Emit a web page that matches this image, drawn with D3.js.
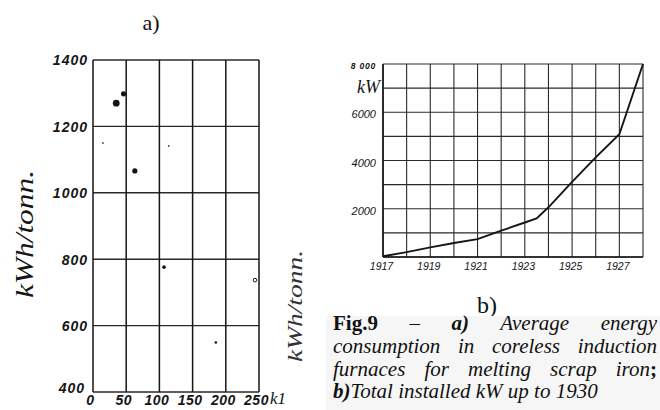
<!DOCTYPE html>
<html><head><meta charset="utf-8">
<script src="https://cdn.jsdelivr.net/npm/d3@7/dist/d3.min.js"></script>
<style>
html,body{margin:0;padding:0;background:#fff;}
svg{display:block;}
</style></head>
<body>
<svg id="c" width="660" height="410"></svg>
<script>
// ---- Data: chart a) energy consumption vs furnace capacity ----
const leftXTicks = [0, 50, 100, 150, 200, 250];
const leftYTicks = [400, 600, 800, 1000, 1200, 1400];
const bigDotsX = [35, 46, 63];
const bigDotsY = [1270, 1298, 1066];
const smallDotsX = [107, 185];
const smallDotsY = [776, 549];
const openDotX = [247];
const openDotY = [737];
const specksX = [15, 114];
const specksY = [1150, 1141];

// ---- Data: chart b) total installed kW ----
const years = [1917, 1918, 1919, 1920, 1921, 1922, 1923, 1923.5, 1924, 1925, 1926, 1927, 1928];
const kW    = [30, 200, 400, 580, 740, 1090, 1430, 1600, 2060, 3110, 4130, 5090, 8000];
const rightXTicks = [1917, 1919, 1921, 1923, 1925, 1927];
const rightYTicks = [2000, 4000, 6000, 8000];
const rightYTickLabels = ["2000", "4000", "6000", "8 000"];

const svg = d3.select("#c");
const ink = "#151515";

// ================= Chart a) =================
const xa = d3.scaleLinear().domain([0, 250]).range([93, 259]);
const ya = d3.scaleLinear().domain([400, 1400]).range([392, 60]);
const ga = svg.append("g");

ga.selectAll("line.h").data(leftYTicks).join("line")
  .attr("x1", xa(0)).attr("x2", xa(250))
  .attr("y1", d => ya(d)).attr("y2", d => ya(d))
  .attr("stroke", "#2a2a2a").attr("stroke-width", 1.4);
ga.selectAll("line.v").data(leftXTicks).join("line")
  .attr("y1", ya(400)).attr("y2", ya(1400))
  .attr("x1", d => xa(d)).attr("x2", d => xa(d))
  .attr("stroke", ink).attr("stroke-width", 1.5);

const tickFontA = "italic bold 14px 'Liberation Sans', Arial, sans-serif";
const yAxisA = d3.axisLeft(ya).tickValues(leftYTicks).tickSize(0).tickPadding(4).tickFormat(d3.format("d"));
const gya = ga.append("g").attr("transform", `translate(${xa(0) - 1},0)`).call(yAxisA);
gya.select(".domain").remove();
gya.selectAll("text").style("font", tickFontA).attr("fill", ink).attr("letter-spacing", "1px")
  .attr("dy", d => d === 400 ? "0.05em" : "0.35em")
  .attr("x", d => d === 400 ? -7 : -4);

const xAxisA = d3.axisBottom(xa).tickValues(leftXTicks).tickSize(0).tickPadding(3).tickFormat(d3.format("d"));
const gxa = ga.append("g").attr("transform", `translate(-3,${ya(400)})`).call(xAxisA);
gxa.select(".domain").remove();
gxa.selectAll("text").style("font", tickFontA).attr("fill", ink).attr("letter-spacing", "0.5px").attr("dy", "0.72em");

ga.append("text").attr("x", 270).attr("y", 404)
  .style("font", "italic 17px 'Liberation Serif', serif").attr("fill", ink).text("k1");

ga.append("text")
  .attr("transform", `translate(33,234) rotate(-90)`)
  .attr("text-anchor", "middle")
  .attr("textLength", 128).attr("lengthAdjust", "spacingAndGlyphs")
  .style("font", "italic 25px 'Liberation Serif', serif").attr("fill", ink)
  .text("kWh/tonn.");
ga.append("text")
  .attr("transform", `translate(302,306) rotate(-90)`)
  .attr("text-anchor", "middle")
  .attr("textLength", 112).attr("lengthAdjust", "spacingAndGlyphs")
  .style("font", "italic 20px 'Liberation Serif', serif").attr("fill", "#333")
  .text("kWh/tonn.");

ga.selectAll("circle.big").data(bigDotsX).join("circle")
  .attr("cx", (d, i) => xa(d)).attr("cy", (d, i) => ya(bigDotsY[i]))
  .attr("r", (d, i) => i === 0 ? 3.4 : 2.6).attr("fill", ink);
ga.selectAll("circle.small").data(smallDotsX).join("circle")
  .attr("cx", d => xa(d)).attr("cy", (d, i) => ya(smallDotsY[i]))
  .attr("r", (d, i) => i === 0 ? 1.8 : 1.3).attr("fill", ink);
ga.selectAll("circle.open").data(openDotX).join("circle")
  .attr("cx", d => xa(d) - 2).attr("cy", (d, i) => ya(openDotY[i]))
  .attr("r", 1.8).attr("fill", "#fff").attr("stroke", ink).attr("stroke-width", 1);
ga.selectAll("circle.speck").data(specksX).join("circle")
  .attr("cx", d => xa(d)).attr("cy", (d, i) => ya(specksY[i]))
  .attr("r", 0.9).attr("fill", "#444");

svg.append("text").attr("x", 151).attr("y", 30).attr("text-anchor", "middle")
  .style("font", "22px 'Liberation Serif', serif").attr("fill", "#111").text("a)");

// ================= Chart b) =================
const xb = d3.scaleLinear().domain([1917, 1928]).range([383, 643]);
const yb = d3.scaleLinear().domain([0, 8000]).range([257, 64]);
const gb = svg.append("g");

gb.selectAll("line.h").data(d3.range(0, 8001, 1000)).join("line")
  .attr("x1", xb(1917)).attr("x2", xb(1928))
  .attr("y1", d => yb(d)).attr("y2", d => yb(d))
  .attr("stroke", "#2a2a2a").attr("stroke-width", 1.1);
gb.selectAll("line.v").data(d3.range(1917, 1929)).join("line")
  .attr("y1", yb(0)).attr("y2", yb(8000))
  .attr("x1", d => xb(d)).attr("x2", d => xb(d))
  .attr("stroke", "#2a2a2a").attr("stroke-width", 1.1);
gb.append("line").attr("x1", xb(1917)).attr("x2", xb(1917)).attr("y1", yb(0)).attr("y2", yb(8000))
  .attr("stroke", ink).attr("stroke-width", 1.6);
gb.append("line").attr("x1", xb(1917)).attr("x2", xb(1928)).attr("y1", yb(0)).attr("y2", yb(0))
  .attr("stroke", ink).attr("stroke-width", 1.6);

gb.append("path").datum(years)
  .attr("d", d3.line().x(d => xb(d)).y((d, i) => yb(kW[i])))
  .attr("fill", "none").attr("stroke", ink).attr("stroke-width", 1.9);

const yAxisB = d3.axisLeft(yb).tickValues(rightYTicks).tickSize(0).tickPadding(7)
  .tickFormat((d, i) => rightYTickLabels[i]);
const gyb = gb.append("g").attr("transform", `translate(${xb(1917)},0)`).call(yAxisB);
gyb.select(".domain").remove();
gyb.selectAll("text").style("font", "italic 11px 'Liberation Sans', Arial, sans-serif")
  .attr("fill", ink).attr("dy", "0.5em")
  .filter(d => d === 8000).style("font", "italic bold 8.5px 'Liberation Sans', Arial, sans-serif")
  .attr("letter-spacing", "0.8px");
gb.append("text").attr("x", 380).attr("y", 93).attr("text-anchor", "end")
  .style("font", "italic 18px 'Liberation Serif', serif").attr("fill", ink).text("kW");

const xAxisB = d3.axisBottom(xb).tickValues(rightXTicks).tickSize(0).tickPadding(5).tickFormat(d3.format("d"));
const gxb = gb.append("g").attr("transform", `translate(-2,${yb(0)})`).call(xAxisB);
gxb.select(".domain").remove();
gxb.selectAll("text").style("font", "italic 10.5px 'Liberation Sans', Arial, sans-serif")
  .attr("fill", ink).attr("dy", "0.75em");

svg.append("text").attr("x", 487).attr("y", 313).attr("text-anchor", "middle")
  .style("font", "24px 'Liberation Serif', serif").attr("fill", "#111").text("b)");

// ================= Caption =================
svg.append("rect").attr("x", 326).attr("y", 316).attr("width", 334).attr("height", 94).attr("fill", "#f6f6f6");

const captionLines = [
  [["Fig.9", "bold"], ["–", "normal"], ["a)", "bold italic"], ["Average", "italic"], ["energy", "italic"]],
  [["consumption", "italic"], ["in", "italic"], ["coreless", "italic"], ["induction", "italic"]],
  [["furnaces", "italic"], ["for", "italic"], ["melting", "italic"], ["scrap", "italic"], ["iron", "italic", ";"]],
  [["b)", "bold italic", null, true], ["Total", "italic"], ["installed", "italic"], ["kW", "italic"], ["up", "italic"], ["to", "italic"], ["1930", "italic"]]
];
const capLeft = 333, capRight = 657, capBase = 330, capStep = 22.8, capSize = 21;
function fontFor(style) {
  const it = style.includes("italic") ? "italic " : "";
  const b = style.includes("bold") ? "bold " : "";
  return `${it}${b}${capSize}px 'Liberation Serif', 'Times New Roman', serif`;
}
captionLines.forEach((words, li) => {
  const y = capBase + li * capStep;
  const nodes = words.map(w => {
    const t = svg.append("text").attr("y", y).attr("fill", "#111").style("font", fontFor(w[1]));
    t.append("tspan").text(w[0]);
    if (w[2]) t.append("tspan").style("font-weight", "bold").style("font-style", "normal").text(w[2]);
    return {t, w: t.node().getComputedTextLength(), glue: !!w[3]};
  });
  const last = li === captionLines.length - 1;
  if (!last) {
    const total = d3.sum(nodes, n => n.w);
    const gap = (capRight - capLeft - total) / (nodes.length - 1);
    let x = capLeft;
    nodes.forEach(n => { n.t.attr("x", x); x += n.w + gap; });
  } else {
    const sp = capSize * 0.25;
    let x = capLeft;
    nodes.forEach(n => { n.t.attr("x", x); x += n.w + (n.glue ? 0 : sp); });
  }
});
</script>
</body></html>
